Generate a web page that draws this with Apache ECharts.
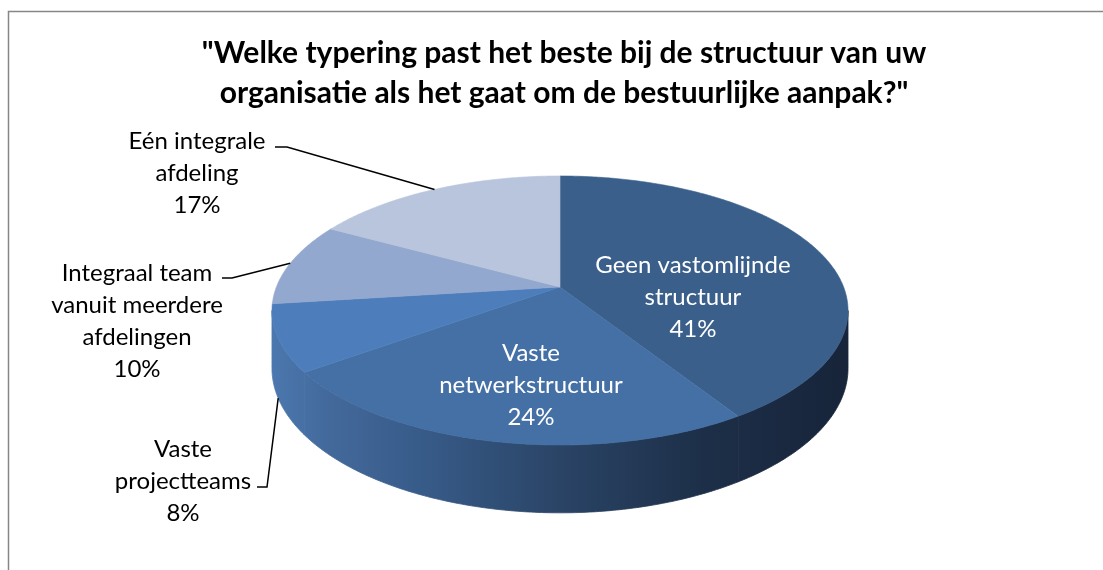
<!DOCTYPE html>
<html>
<head>
<meta charset="utf-8">
<script src="https://cdn.jsdelivr.net/npm/echarts@6/dist/echarts.min.js"></script>
<style>
  html, body { margin: 0; padding: 0; background: #fff; }
  #chart { width: 1103px; height: 570px; }
</style>
</head>
<body>
<div id="chart"></div>
<script>
// data
var categories = ['Geen vastomlijnde structuur', 'Vaste netwerkstructuur', 'Vaste projectteams',
    'Integraal team vanuit meerdere afdelingen', 'Eén integrale afdeling'];
var labelNames = ['Geen vastomlijnde\nstructuur', 'Vaste\nnetwerkstructuur', 'Vaste\nprojectteams',
    'Integraal team\nvanuit meerdere\nafdelingen', 'Eén integrale\nafdeling'];
var values = [41, 24, 8, 10, 17];
var topColors = ['#3A5F8B', '#4570A5', '#4D7EBB', '#93A8CF', '#B8C5DC'];

// 3d pie projection (top face ellipse with a bit of perspective)
var CX = 560, CY = 287, KX = 283.6, KY = 130.4, P = 0.1746, DEPTH = 56;
var SIDE_FROM = Math.acos(-P), SIDE_TO = 2 * Math.PI - Math.acos(-P);

// outside labels: where the text sits and where the leader starts (by data index)
var outside = {
    2: {x: 183, y: 481, tick: [257, 487, 267]},
    3: {x: 137, y: 321, tick: [222, 278, 232]},
    4: {x: 197, y: 173, tick: [275, 147, 287]}
};

function proj(theta, r, down) {
    var X = r * Math.sin(theta), Z = r * Math.cos(theta);
    var w = 1 + P * Z;
    return [CX + KX * X / w, CY + (-KY * Z + (down || 0)) / w];
}

function arcPts(a, b, down) {
    var pts = [], n = Math.max(2, Math.ceil((b - a) / 0.01));
    for (var i = 0; i <= n; i++) pts.push(proj(a + (b - a) * i / n, 1, down));
    return pts;
}

var total = values.reduce(function (s, v) { return s + v; }, 0);
var starts = [], acc = 0;
values.forEach(function (v) { starts.push(acc / total * 2 * Math.PI); acc += v; });

var sideFill = new echarts.graphic.LinearGradient(272, 0, 848, 0, [
    {offset: 0, color: '#4B78AF'},
    {offset: 0.1, color: '#43699B'},
    {offset: 0.25, color: '#385C8A'},
    {offset: 0.5, color: '#2A4466'},
    {offset: 0.75, color: '#1D2F48'},
    {offset: 1, color: '#17243A'}
], true);

function renderSlice(params, api) {
    var i = params.dataIndex;
    var a = starts[i], b = a + values[i] / total * 2 * Math.PI;
    var children = [];

    // side wall (only the part facing the viewer)
    var sa = Math.max(a, SIDE_FROM), sb = Math.min(b, SIDE_TO);
    if (sb > sa) {
        var pts = arcPts(sa, sb, 0).concat(arcPts(sa, sb, DEPTH).reverse());
        children.push({type: 'polygon', shape: {points: pts},
            style: {fill: sideFill, stroke: sideFill, lineWidth: 0.8}});
    }
    // top face
    children.push({
        type: 'polygon',
        shape: {points: [[CX, CY]].concat(arcPts(a, b, 0))},
        style: {fill: topColors[i], stroke: topColors[i], lineWidth: 0.6}
    });

    var mid = (a + b) / 2;
    var txt = labelNames[i] + '\n' + Math.round(values[i] / total * 100) + '%';
    var o = outside[i];
    if (!o) {
        var c = proj(mid, 0.5, 0);
        children.push({
            type: 'text', z2: 100,
            style: {x: c[0], y: c[1] + 28, text: txt, fill: '#fff', font: '24px Lato',
                lineHeight: 32, align: 'center', verticalAlign: 'middle'}
        });
    } else {
        var end = (mid > SIDE_FROM && mid < SIDE_TO) ? proj(mid, 1, DEPTH) : proj(mid, 1, 0);
        children.push({
            type: 'polyline', z2: 100,
            shape: {points: [[o.tick[0], o.tick[1]], [o.tick[2], o.tick[1]], end]},
            style: {stroke: '#000', lineWidth: 1.5, fill: null}
        });
        children.push({
            type: 'text', z2: 100,
            style: {x: o.x, y: o.y, text: txt, fill: '#000', font: '24px Lato',
                lineHeight: 32, align: 'center', verticalAlign: 'middle'}
        });
    }
    return {type: 'group', children: children};
}

var chart = echarts.init(document.getElementById('chart'));
chart.setOption({
    animation: false,
    title: {
        text: '"Welke typering past het beste bij de structuur van uw\norganisatie als het gaat om de bestuurlijke aanpak?"',
        left: 559, top: 28, textAlign: 'center',
        textStyle: {fontFamily: 'Lato', fontWeight: 'bold', fontSize: 30, lineHeight: 40, color: '#000'}
    },
    graphic: [{
        type: 'rect', shape: {x: 8.5, y: 11.5, width: 1200, height: 700},
        style: {fill: null, stroke: '#878787', lineWidth: 1.5}, silent: true
    }],
    series: [{
        type: 'custom',
        coordinateSystem: 'none',
        data: categories.map(function (c, i) { return {name: c, value: values[i]}; }),
        renderItem: renderSlice
    }]
});
</script>
</body>
</html>
